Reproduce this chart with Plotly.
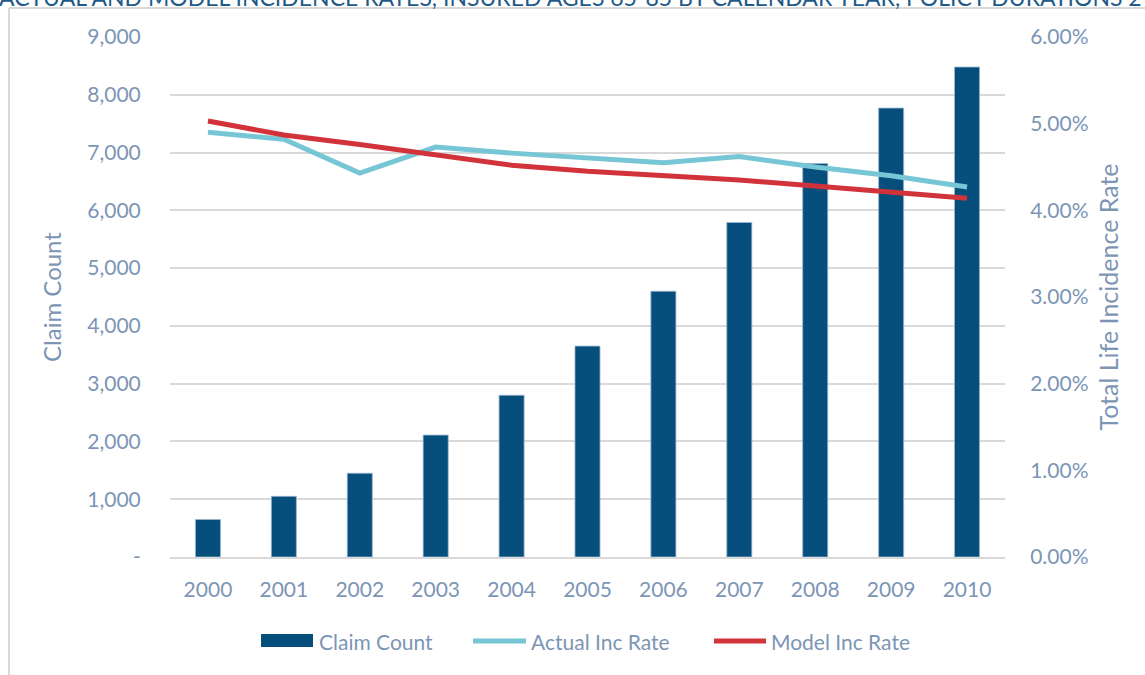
import plotly.graph_objects as go

# Calendar years and series values
years = ["2000", "2001", "2002", "2003", "2004", "2005", "2006", "2007", "2008", "2009", "2010"]
claim_count = [650, 1050, 1450, 2110, 2800, 3650, 4600, 5790, 6810, 7770, 8480]
actual_inc_rate = [0.0490, 0.0482, 0.0443, 0.0473, 0.0466, 0.0460, 0.0455, 0.0462, 0.0450, 0.0440, 0.0427]
model_inc_rate = [0.0503, 0.0487, 0.0476, 0.0464, 0.0452, 0.0445, 0.0440, 0.0435, 0.0428, 0.0421, 0.0414]

left_ticks = [0, 1000, 2000, 3000, 4000, 5000, 6000, 7000, 8000, 9000]
left_tick_text = ["-", "1,000", "2,000", "3,000", "4,000", "5,000", "6,000", "7,000", "8,000", "9,000"]
right_ticks = [0, 0.01, 0.02, 0.03, 0.04, 0.05, 0.06]
right_tick_text = ["0.00%", "1.00%", "2.00%", "3.00%", "4.00%", "5.00%", "6.00%"]

BAR = "#064E7C"
ACTUAL = "#77C6D6"
MODEL = "#D2323A"
TEXT = "#7C95B5"
GRID = "#D9D9D9"
FONT = "Lato"

W, H = 1145, 675
ML, MR, MT, MB = 170, 140, 37, 118
PW, PH = W - ML - MR, H - MT - MB


def px(x):
    return (x - ML) / PW


def py(y):
    return 1 - (y - MT) / PH


fig = go.Figure()
fig.add_trace(go.Bar(
    x=years, y=claim_count, name="Claim Count",
    marker=dict(color=BAR, line=dict(color="#9DB8D0", width=0.8)),
    yaxis="y",
))
fig.add_trace(go.Scatter(
    x=years, y=actual_inc_rate, name="Actual Inc Rate", mode="lines",
    line=dict(color=ACTUAL, width=5), yaxis="y2",
))
fig.add_trace(go.Scatter(
    x=years, y=model_inc_rate, name="Model Inc Rate", mode="lines",
    line=dict(color=MODEL, width=5), yaxis="y2",
))

shapes = [
    # outer frame edges
    dict(type="line", xref="paper", yref="paper", x0=px(9), x1=px(1150), y0=py(8), y1=py(8),
         line=dict(color=GRID, width=2)),
    dict(type="line", xref="paper", yref="paper", x0=px(9), x1=px(9), y0=py(8), y1=py(680),
         line=dict(color=GRID, width=2)),
    # legend symbols
    dict(type="rect", xref="paper", yref="paper", x0=px(261), x1=px(313), y0=py(647), y1=py(634),
         fillcolor=BAR, line=dict(width=0)),
    dict(type="line", xref="paper", yref="paper", x0=px(473), x1=px(526), y0=py(641), y1=py(641),
         line=dict(color=ACTUAL, width=5)),
    dict(type="line", xref="paper", yref="paper", x0=px(714), x1=px(766), y0=py(641), y1=py(641),
         line=dict(color=MODEL, width=5)),
]

legend_font = dict(size=21, color=TEXT, family=FONT)
annotations = [
    dict(text="Claim Count", x=px(317), y=py(641), xref="paper", yref="paper",
         xanchor="left", yanchor="middle", showarrow=False, font=legend_font),
    dict(text="Actual Inc Rate", x=px(529), y=py(641), xref="paper", yref="paper",
         xanchor="left", yanchor="middle", showarrow=False, font=legend_font),
    dict(text="Model Inc Rate", x=px(769), y=py(641), xref="paper", yref="paper",
         xanchor="left", yanchor="middle", showarrow=False, font=legend_font),
    dict(text="ACTUAL AND MODEL INCIDENCE RATES, INSURED AGES 65-85 BY CALENDAR YEAR, POLICY DURATIONS 2+",
         x=px(-3), y=py(13), xref="paper", yref="paper", xanchor="left", yanchor="bottom",
         showarrow=False, font=dict(size=23, color="#1F5A88", family=FONT)),
]

fig.update_layout(
    width=W, height=H,
    margin=dict(l=ML, r=MR, t=MT, b=MB),
    paper_bgcolor="white", plot_bgcolor="white",
    showlegend=False,
    bargap=0.67,
    font=dict(family=FONT, color=TEXT, size=21),
    xaxis=dict(
        type="category", showgrid=False, showline=True, linecolor=GRID, linewidth=2,
        ticks="outside", ticklen=13, tickcolor="rgba(0,0,0,0)",
        tickfont=dict(size=21, color=TEXT),
    ),
    yaxis=dict(
        range=[0, 9000], tickvals=left_ticks, ticktext=left_tick_text,
        showgrid=True, gridcolor=GRID, gridwidth=2, zeroline=False,
        ticks="outside", ticklen=24, tickcolor="rgba(0,0,0,0)",
        tickfont=dict(size=21, color=TEXT),
        title=dict(text="Claim Count", font=dict(size=24, color=TEXT), standoff=18),
    ),
    yaxis2=dict(
        range=[0, 0.06], tickvals=right_ticks, ticktext=right_tick_text,
        overlaying="y", side="right", showgrid=False, zeroline=False,
        ticks="outside", ticklen=20, tickcolor="rgba(0,0,0,0)",
        tickfont=dict(size=21, color=TEXT),
        title=dict(text="Total Life Incidence Rate", font=dict(size=25, color=TEXT), standoff=12),
    ),
    shapes=shapes,
    annotations=annotations,
)

fig.write_html("out.html")
